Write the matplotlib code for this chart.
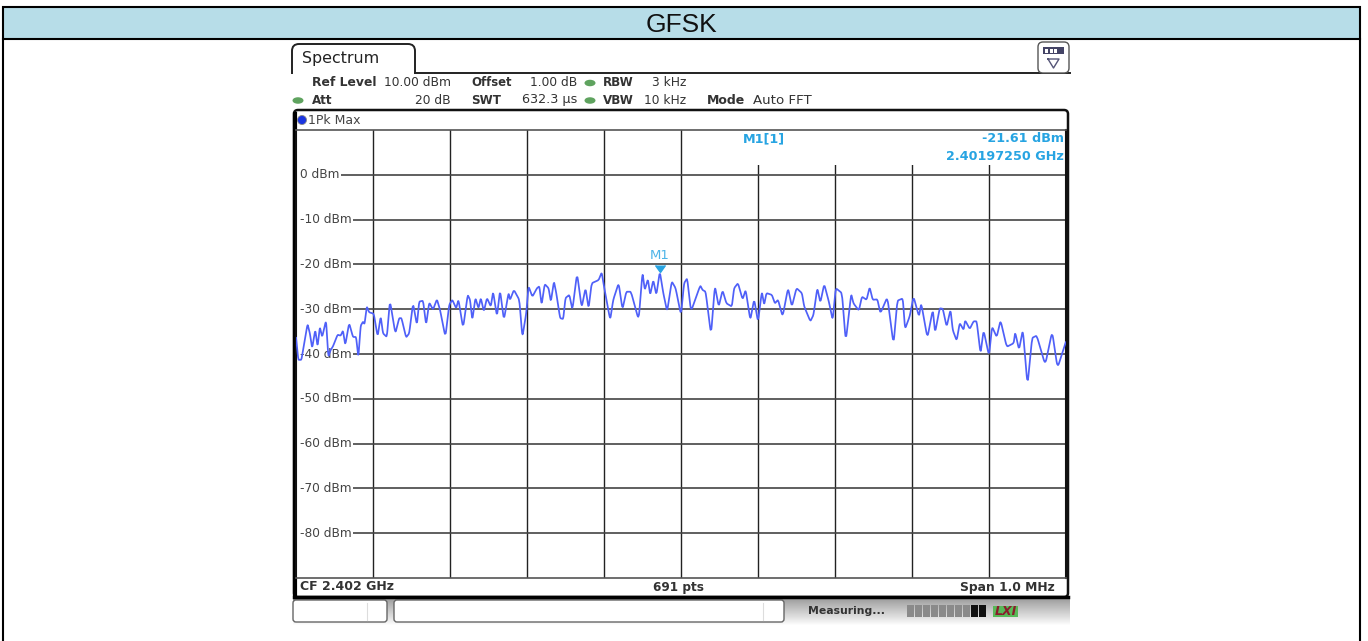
"""GFSK spectrum analyser screenshot."""
import numpy as np
import matplotlib
matplotlib.use('Agg')
import matplotlib.pyplot as plt
from matplotlib.patches import FancyBboxPatch, Rectangle, PathPatch, Ellipse, Circle
from matplotlib.path import Path

W, H = 1368, 641

# trace, kHz from the left edge of the 1 MHz span
freq_khz = [0, 3, 7, 10, 15, 18, 21, 25, 28, 31, 34, 39, 42, 45, 48, 54, 58, 61, 64, 69,
            74, 78, 81, 84, 87, 89, 92, 95, 101, 106, 110, 113, 118, 122, 129, 134, 137, 143, 147, 152,
            157, 160, 165, 169, 173, 178, 183, 187, 194, 199, 203, 208, 211, 217, 223, 226, 229, 233, 237, 240,
            244, 248, 253, 256, 261, 265, 270, 276, 278, 283, 290, 294, 299, 302, 307, 313, 316, 319, 323, 328,
            331, 335, 338, 343, 347, 350, 355, 359, 365, 371, 376, 380, 384, 393, 397, 400, 408, 412, 419, 424,
            429, 435, 445, 450, 453, 457, 460, 464, 468, 472.5, 477, 482, 488, 493, 500, 504, 508, 513, 525, 528,
            532, 539, 544, 549, 554, 559, 566, 569, 574, 580, 584, 590, 595, 600, 605, 608, 611, 618, 622, 626,
            632, 639, 644, 650, 657, 660, 668, 672, 677, 681, 686, 692, 697, 701, 709, 714, 721, 724, 731, 735,
            741, 745, 749, 755, 759, 768, 776, 781, 788, 791, 797, 802, 809, 812, 820, 827, 830, 836, 840, 845,
            850, 853, 858, 862, 867, 869, 875, 880, 884, 889, 893, 900, 904, 910, 915, 923, 932, 934, 939, 944,
            950, 956, 962, 973, 982, 989, 1000]
level_dbm = [-36.2, -41.3, -41.3, -38.3, -33.3, -35.4, -38.7, -34.6, -38.3, -34.0, -36.2, -32.5, -40.6, -39.1, -38.3, -35.7, -35.9, -34.8, -38.0, -33.1,
             -36.2, -36.2, -40.7, -33.7, -32.8, -33.3, -29.4, -30.7, -31.0, -36.1, -31.6, -35.4, -36.2, -28.1, -35.4, -32.0, -32.0, -36.3, -35.4, -28.7,
             -33.5, -28.3, -28.1, -33.5, -28.5, -30.1, -27.8, -30.1, -36.2, -29.0, -27.9, -29.8, -27.9, -34.2, -26.8, -27.9, -32.4, -27.5, -29.8, -27.5,
             -30.5, -27.5, -29.4, -26.1, -31.6, -25.8, -32.4, -26.4, -27.9, -25.7, -27.9, -36.2, -30.9, -24.9, -27.2, -25.3, -24.9, -29.0, -24.4, -25.3,
             -28.3, -23.8, -26.4, -32.0, -32.2, -27.5, -26.8, -30.1, -22.0, -29.6, -25.3, -29.8, -24.2, -23.5, -21.8, -24.9, -32.4, -27.9, -24.2, -30.0,
             -26.1, -26.1, -32.4, -21.8, -25.7, -23.3, -26.8, -23.5, -26.8, -21.61, -26.4, -30.5, -23.8, -25.3, -31.3, -24.2, -23.1, -30.5, -24.7, -25.7,
             -26.1, -35.7, -24.8, -29.4, -25.8, -28.7, -29.4, -25.3, -24.2, -27.8, -25.7, -32.4, -27.8, -32.8, -26.1, -29.0, -26.4, -26.8, -28.7, -27.9,
             -31.6, -25.3, -29.4, -25.3, -26.4, -29.4, -32.7, -31.3, -25.3, -28.5, -24.4, -28.3, -32.4, -25.3, -26.4, -37.2, -26.6, -28.7, -30.3, -27.2,
             -27.9, -25.1, -27.9, -27.8, -30.9, -27.3, -37.9, -28.1, -27.6, -34.4, -31.6, -27.2, -31.6, -28.7, -36.4, -30.1, -35.2, -29.8, -29.9, -33.9,
             -30.1, -34.7, -37.0, -33.1, -34.6, -32.5, -34.4, -32.7, -32.7, -39.9, -34.7, -40.4, -33.9, -36.2, -32.5, -38.4, -37.6, -35.2, -39.0, -34.6,
             -47.0, -36.4, -35.9, -42.4, -35.0, -43.1, -37.2]
marker_khz = 472.5
marker_dbm = -21.61
y_ticks = [0, -10, -20, -30, -40, -50, -60, -70, -80]

DARK = '#333333'
CYAN = '#27a4e2'
TRACE = '#4f60f8'
GREEN = '#5fa35f'

fig = plt.figure(figsize=(W/100, H/100), dpi=100, facecolor='white')

# whole-figure axes in pixels for the instrument chrome
bg = fig.add_axes([0, 0, 1, 1])
bg.set_xlim(0, W)
bg.set_ylim(H, 0)
bg.axis('off')

# table cell around the screenshot
bg.add_patch(Rectangle((3, 7), 1357, 32, fc='#b7dde8', ec='black', lw=1.5))
bg.plot([3, 3], [39, H], color='black', lw=1.5)
bg.plot([1360, 1360], [39, H], color='black', lw=1.5)
bg.text(681, 24.5, 'GFSK', ha='center', va='center', fontsize=19,
        family='Liberation Sans', color='#111111')

# bottom status bar, grey fading to white
grad = np.linspace(0.6, 1.0, 28).reshape(-1, 1)
bg.imshow(grad, extent=[293, 1070, 626, 597], cmap='gray', vmin=0, vmax=1,
          aspect='auto', zorder=0)
bg.set_xlim(0, W)
bg.set_ylim(H, 0)


def rbox(x0, y0, x1, y1, r=4, fc='white', ec='#444444', lw=1.0, z=1):
    bg.add_patch(FancyBboxPatch((x0+r, y0+r), x1-x0-2*r, y1-y0-2*r,
                                boxstyle=f'round,pad={r},rounding_size={r}',
                                fc=fc, ec=ec, lw=lw, zorder=z))


def label(x, y, s, ha='left', bold=False, color=DARK, size=8.8):
    bg.text(x, y, s, ha=ha, va='center', fontsize=size, color=color,
            fontweight='bold' if bold else 'normal', family='DejaVu Sans', zorder=6)


# Spectrum tab and button
rbox(292, 44, 415, 90, r=7, ec='#222222', lw=1.4, z=1)
bg.add_patch(Rectangle((288, 74), 790, 30, fc='white', ec='none', zorder=1.5))
bg.plot([415, 1070], [73, 73], color='#222222', lw=1.4, zorder=2)
label(302, 58.5, 'Spectrum', size=11.4, color='#222222')
rbox(1038, 42, 1069, 73, r=5, ec='#555555', lw=1.0, z=3)
bg.add_patch(Rectangle((1043, 47), 21, 7, fc='#444466', ec='none', zorder=4))
for bx in (1045, 1049.5, 1054):
    bg.add_patch(Rectangle((bx, 49), 3, 4, fc='white', ec='none', zorder=5))
bg.plot([1048, 1059, 1053.5, 1048], [59, 59, 68, 59], color='#555577', lw=1, zorder=5)

# settings rows
label(312, 82, 'Ref Level', bold=True, size=8.9)
label(451, 82, '10.00 dBm', ha='right')
label(471, 82, 'Offset', bold=True, size=8.4)
label(577, 82, '1.00 dB', ha='right')
label(603, 82, 'RBW', bold=True, size=8.6)
label(686, 82, '3 kHz', ha='right')
label(312, 100, 'Att', bold=True, size=8.6)
label(451, 100, '20 dB', ha='right')
label(471, 100, 'SWT', bold=True, size=8.6)
label(577, 100, '632.3 µs', ha='right', size=9.2)
label(603, 100, 'VBW', bold=True, size=8.6)
label(686, 100, '10 kHz', ha='right')
label(707, 101, 'Mode', bold=True, size=9)
label(753, 101, 'Auto FFT', size=9.6)
for gx, gy in [(590, 83), (298, 100.5), (590, 100.5)]:
    bg.add_patch(Ellipse((gx, gy), 11, 6.5, fc=GREEN, ec='none', zorder=6))

# diagram frame
rbox(294, 110, 1068, 597, r=4, ec='#111111', lw=1.8, z=2)
bg.plot([295, 295], [114, 594], color='black', lw=3, zorder=5)
bg.plot([294, 1068], [597, 597], color='black', lw=2.5, zorder=5)
bg.add_patch(Circle((302, 120), 4.5, fc='#1a35e0', ec='#888888', lw=0.6, zorder=6))
label(308, 120, '1Pk Max', color='#444444', size=9)
label(300, 587, 'CF 2.402 GHz', bold=True, size=9)
label(678.5, 587, '691 pts', ha='center', bold=True, size=8.7)
label(1055, 587, 'Span 1.0 MHz', ha='right', bold=True, size=8.9)

# softkey boxes and status
rbox(293, 600, 387, 622, r=3, ec='#666666', z=3)
rbox(394, 600, 784, 622, r=3, ec='#666666', z=3)
bg.plot([367, 367], [603, 620], color='#dddddd', lw=0.8, zorder=4)
bg.plot([763, 763], [603, 620], color='#dddddd', lw=0.8, zorder=4)
label(808, 611, 'Measuring...', bold=True, size=7.8)
for i, bx in enumerate(range(907, 985, 8)):
    col = '#111111' if i >= 8 else '#8a8a8a'
    bg.add_patch(Rectangle((bx, 605), 6.8, 12, fc=col, ec='none', zorder=4))
bg.add_patch(Rectangle((993, 606), 25, 11, fc='#58b858', ec='none', zorder=4))
bg.text(1005.5, 611.5, 'LXI', ha='center', va='center', fontsize=9, style='italic',
        fontweight='bold', color='#8a1c2c', zorder=5)

# trace area
ax = fig.add_axes([296/W, 1-578/H, (1066-296)/W, (578-130)/H], facecolor='white', zorder=3)
ax.set_xlim(0, 1000)
ax.set_ylim(-90, 10)
ax.set_xticks(np.arange(100, 1000, 100))
ax.set_yticks(y_ticks)
ax.tick_params(length=0, labelbottom=False, labelleft=False)
ax.grid(True, axis='x', color='#222222', lw=1.0, zorder=1)
ax.grid(True, axis='y', color='#444444', lw=1.2, zorder=1)
ax.set_axisbelow(True)
for sp in ('top', 'bottom'):
    ax.spines[sp].set_color('#555555')
    ax.spines[sp].set_linewidth(1.2)
for sp in ('left', 'right'):
    ax.spines[sp].set_color('#111111')
    ax.spines[sp].set_linewidth(1.5)

# y labels sit on a white gap at the left of the grid
ax.axvspan(0, 5, color='white', lw=0, zorder=1.5)
for lev in y_ticks:
    ax.text(5, lev, f'{lev} dBm', ha='left', va='center', fontsize=8.7, color='#444444', zorder=2,
            bbox=dict(fc='white', ec='none', pad=1.0))

# white patch behind the marker readout
ax.add_patch(Rectangle((502, 2.1), 497, 7.8, fc='white', ec='none', zorder=2))
ax.text(608, 8.0, 'M1[1]', ha='center', va='center', fontsize=9.2, color=CYAN, fontweight='bold', zorder=4)
ax.text(997, 8.0, f'{marker_dbm:.2f} dBm', ha='right', va='center', fontsize=9.2, color=CYAN, fontweight='bold', zorder=4)
ax.text(997, 4.0, '2.40197250 GHz', ha='right', va='center', fontsize=9.2, color=CYAN, fontweight='bold', zorder=4)

# rounded corners at each read point, the analyser trace has soft lobes
pts = np.column_stack([freq_khz, level_dbm])
verts, codes = [pts[0]], [Path.MOVETO]
for i in range(1, len(pts)-1):
    a = pts[i] + 0.18*(pts[i-1]-pts[i])
    b = pts[i] + 0.18*(pts[i+1]-pts[i])
    verts += [a, pts[i], b]
    codes += [Path.LINETO, Path.CURVE3, Path.CURVE3]
verts.append(pts[-1])
codes.append(Path.LINETO)
ax.add_patch(PathPatch(Path(verts, codes), fc='none', ec=TRACE, lw=1.25, zorder=3,
                       joinstyle='round'))
ax.plot(marker_khz, marker_dbm, marker=7, ms=7, color=CYAN, zorder=4)
ax.text(472, -18.1, 'M1', ha='center', va='center', fontsize=9.5, color='#4db4e8', zorder=4)

plt.savefig('out.png', dpi=100)
